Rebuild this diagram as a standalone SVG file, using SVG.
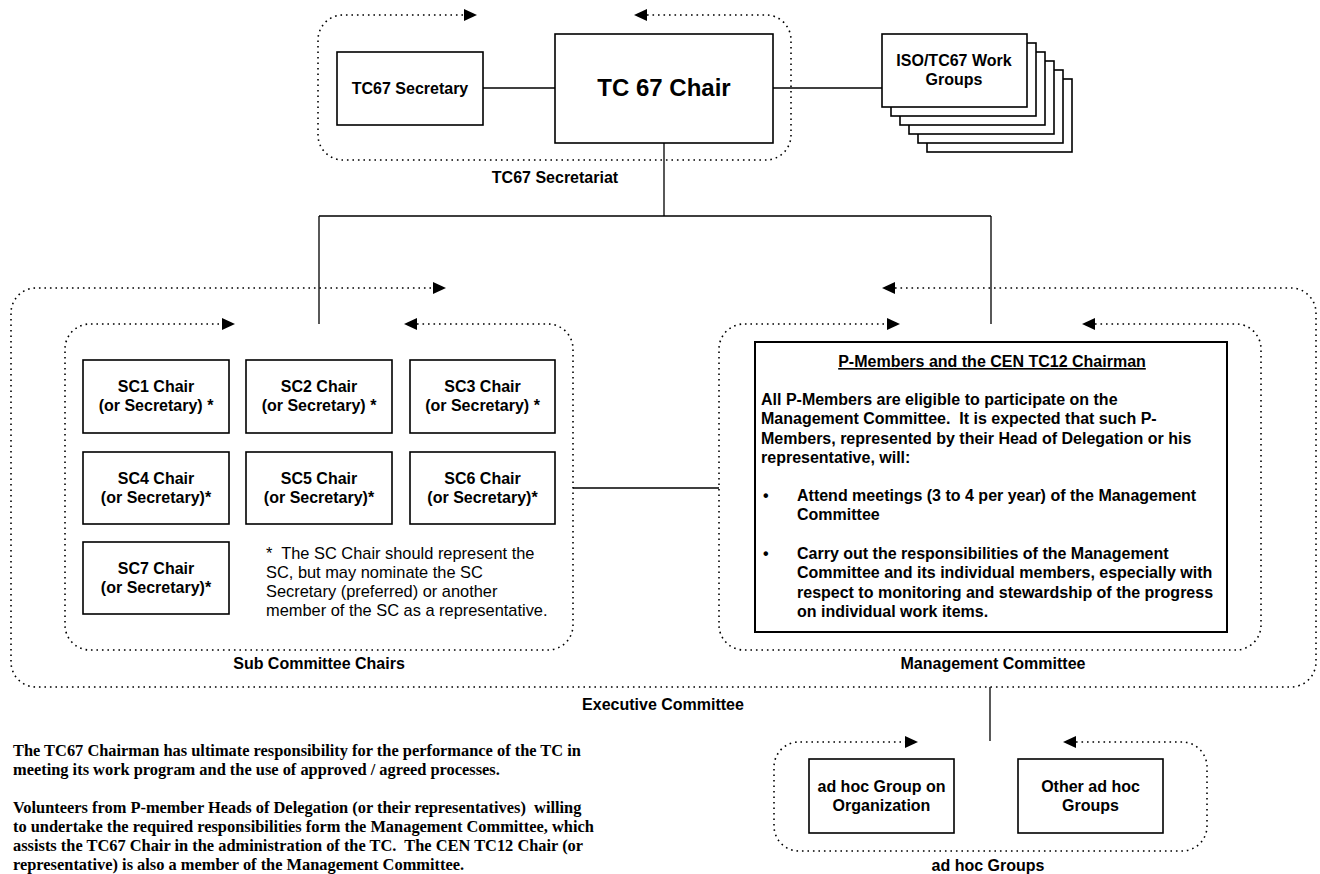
<svg xmlns="http://www.w3.org/2000/svg" width="1320" height="874" viewBox="0 0 1320 874">
<defs>
<marker id="ah" markerUnits="userSpaceOnUse" markerWidth="13" markerHeight="12" refX="0" refY="6" orient="auto-start-reverse" viewBox="0 0 13 12">
<path d="M0,0 L13,6 L0,12 Z" fill="#000"/>
</marker>
</defs>
<style>
.dot{fill:none;stroke:#000;stroke-width:1.6;stroke-dasharray:1.6 3.9;marker-start:url(#ah);marker-end:url(#ah)}
.box{fill:#fff;stroke:#000;stroke-width:1.6}
.ln{fill:none;stroke:#000;stroke-width:1.3}
.b{font-family:"Liberation Sans",Arial,sans-serif;font-weight:bold;font-size:16px;fill:#000}
.c{text-anchor:middle}
.n{font-family:"Liberation Sans",Arial,sans-serif;font-size:16.4px;fill:#000}
.s{font-family:"Liberation Serif","Times New Roman",serif;font-weight:bold;font-size:16.4px;fill:#000}
</style>
<rect width="1320" height="874" fill="#fff"/>

<g id="groups">
<path class="dot" d="M647,15 L766,15 A25,25 0 0 1 791,40 L791,135 A25,25 0 0 1 766,160 L343,160 A25,25 0 0 1 318,135 L318,40 A25,25 0 0 1 343,15 L464,15"/>
<text class="b c" x="555" y="183">TC67 Secretariat</text>
<path class="dot" d="M895,288 L1291,288 A25,25 0 0 1 1316,313 L1316,662 A25,25 0 0 1 1291,687 L36,687 A25,25 0 0 1 11,662 L11,313 A25,25 0 0 1 36,288 L433,288"/>
<text class="b c" x="663" y="710">Executive Committee</text>
<path class="dot" d="M417,324 L548,324 A25,25 0 0 1 573,349 L573,625 A25,25 0 0 1 548,650 L90,650 A25,25 0 0 1 65,625 L65,349 A25,25 0 0 1 90,324 L222,324"/>
<text class="b c" x="319" y="669">Sub Committee Chairs</text>
<path class="dot" d="M1095,324 L1236,324 A25,25 0 0 1 1261,349 L1261,625 A25,25 0 0 1 1236,650 L744,650 A25,25 0 0 1 719,625 L719,349 A25,25 0 0 1 744,324 L887,324"/>
<text class="b c" x="993" y="669">Management Committee</text>
<path class="dot" d="M1076,742 L1182,742 A25,25 0 0 1 1207,767 L1207,826 A25,25 0 0 1 1182,851 L799,851 A25,25 0 0 1 774,826 L774,767 A25,25 0 0 1 799,742 L905,742"/>
<text class="b c" x="988" y="871">ad hoc Groups</text>
</g>

<g id="connectors">
<path class="ln" d="M483,88 L555,88"/>
<path class="ln" d="M773,88 L882,88"/>
<path class="ln" d="M664,143 L664,216 M319,216 L991,216 M319,216 L319,324 M991,216 L991,324"/>
<path class="ln" d="M573,488 L719,488"/>
<path class="ln" d="M990,687 L990,741"/>
</g>

<g id="tc67-secretary">
<rect class="box" x="337" y="52" width="146" height="73"/>
<text class="b c" x="410" y="94">TC67 Secretary</text>
</g>

<g id="tc67-chair">
<rect class="box" x="555" y="34" width="218" height="109"/>
<text class="b c" x="664" y="96" style="font-size:24px">TC 67 Chair</text>
</g>

<g id="work-groups">
<rect class="box" x="927" y="79" width="145" height="73"/>
<rect class="box" x="918" y="70" width="145" height="73"/>
<rect class="box" x="909" y="61" width="145" height="73"/>
<rect class="box" x="900" y="52" width="145" height="73"/>
<rect class="box" x="891" y="43" width="145" height="73"/>
<rect class="box" x="882" y="34" width="145" height="73"/>
<text class="b c" x="954" y="66">ISO/TC67 Work</text>
<text class="b c" x="954" y="85">Groups</text>
</g>

<g id="sc1">
<rect class="box" x="83" y="360" width="146" height="73"/>
<text class="b c" x="156" y="392">SC1 Chair</text>
<text class="b c" x="156" y="411">(or Secretary) *</text>
</g>
<g id="sc2">
<rect class="box" x="246" y="360" width="146" height="73"/>
<text class="b c" x="319" y="392">SC2 Chair</text>
<text class="b c" x="319" y="411">(or Secretary) *</text>
</g>
<g id="sc3">
<rect class="box" x="410" y="360" width="145" height="73"/>
<text class="b c" x="482.5" y="392">SC3 Chair</text>
<text class="b c" x="482.5" y="411">(or Secretary) *</text>
</g>
<g id="sc4">
<rect class="box" x="83" y="452" width="146" height="72"/>
<text class="b c" x="156" y="483.5">SC4 Chair</text>
<text class="b c" x="156" y="502.5">(or Secretary)*</text>
</g>
<g id="sc5">
<rect class="box" x="246" y="452" width="146" height="72"/>
<text class="b c" x="319" y="483.5">SC5 Chair</text>
<text class="b c" x="319" y="502.5">(or Secretary)*</text>
</g>
<g id="sc6">
<rect class="box" x="410" y="452" width="145" height="72"/>
<text class="b c" x="482.5" y="483.5">SC6 Chair</text>
<text class="b c" x="482.5" y="502.5">(or Secretary)*</text>
</g>
<g id="sc7">
<rect class="box" x="83" y="542" width="146" height="72"/>
<text class="b c" x="156" y="573.5">SC7 Chair</text>
<text class="b c" x="156" y="592.5">(or Secretary)*</text>
</g>
<g id="sc-note">
<text class="n" x="266" y="559" xml:space="preserve">*  The SC Chair should represent the</text>
<text class="n" x="266" y="578">SC, but may nominate the SC</text>
<text class="n" x="266" y="597">Secretary (preferred) or another</text>
<text class="n" x="266" y="616">member of the SC as a representative.</text>
</g>

<g id="p-members">
<rect class="box" x="755" y="342" width="472" height="290" style="stroke-width:2"/>
<text class="b c" x="992" y="367" style="text-decoration:underline">P-Members and the CEN TC12 Chairman</text>
<text class="b" x="761" y="405">All P-Members are eligible to participate on the</text>
<text class="b" x="761" y="424.3" xml:space="preserve">Management Committee.  It is expected that such P-</text>
<text class="b" x="761" y="443.6">Members, represented by their Head of Delegation or his</text>
<text class="b" x="761" y="462.9">representative, will:</text>
<text class="b" x="763" y="501">•</text>
<text class="b" x="797" y="501">Attend meetings (3 to 4 per year) of the Management</text>
<text class="b" x="797" y="520.3">Committee</text>
<text class="b" x="763" y="559">•</text>
<text class="b" x="797" y="559">Carry out the responsibilities of the Management</text>
<text class="b" x="797" y="578.3">Committee and its individual members, especially with</text>
<text class="b" x="797" y="597.6">respect to monitoring and stewardship of the progress</text>
<text class="b" x="797" y="616.9">on individual work items.</text>
</g>

<g id="adhoc-org">
<rect class="box" x="809" y="759" width="145" height="74"/>
<text class="b c" x="881.5" y="791.5">ad hoc Group on</text>
<text class="b c" x="881.5" y="810.5">Organization</text>
</g>
<g id="adhoc-other">
<rect class="box" x="1018" y="759" width="145" height="74"/>
<text class="b c" x="1090.5" y="791.5">Other ad hoc</text>
<text class="b c" x="1090.5" y="810.5">Groups</text>
</g>

<g id="notes">
<text class="s" x="13" y="756">The TC67 Chairman has ultimate responsibility for the performance of the TC in</text>
<text class="s" x="13" y="775">meeting its work program and the use of approved / agreed processes.</text>
<text class="s" x="13" y="813" xml:space="preserve">Volunteers from P-member Heads of Delegation (or their representatives)  willing</text>
<text class="s" x="13" y="832">to undertake the required responsibilities form the Management Committee, which</text>
<text class="s" x="13" y="851" xml:space="preserve">assists the TC67 Chair in the administration of the TC.  The CEN TC12 Chair (or</text>
<text class="s" x="13" y="869.5">representative) is also a member of the Management Committee.</text>
</g>
</svg>
